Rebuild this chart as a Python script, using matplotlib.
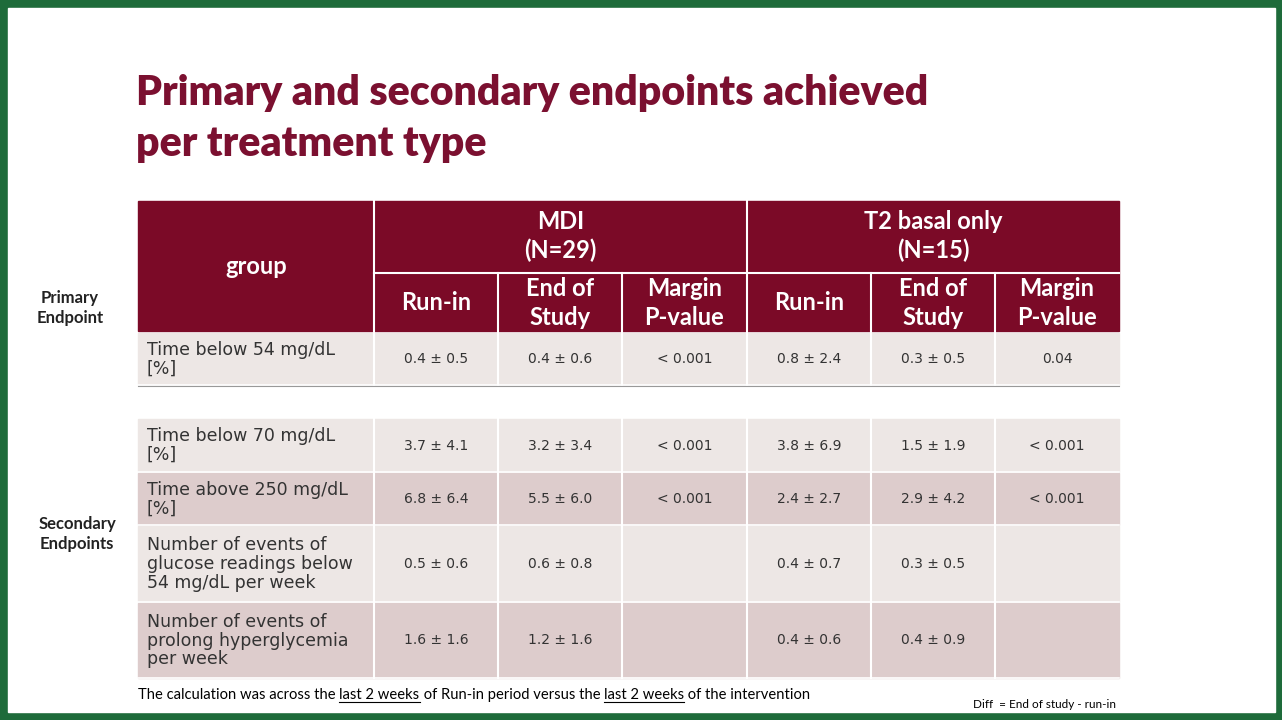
import matplotlib
matplotlib.use("Agg")
import matplotlib.pyplot as plt
from matplotlib.patches import Rectangle

title_lines = ["Primary and secondary endpoints achieved", "per treatment type"]
groups = ["MDI\n(N=29)", "T2 basal only\n(N=15)"]
sub_cols = ["Run-in", "End of\nStudy", "Margin\nP-value"]
row_labels = ["Time below 54 mg/dL\n[%]",
              "Time below 70 mg/dL\n[%]",
              "Time above 250 mg/dL\n[%]",
              "Number of events of\nglucose readings below\n54 mg/dL per week",
              "Number of events of\nprolong hyperglycemia\nper week"]
values = [["0.4 ± 0.5", "0.4 ± 0.6", "< 0.001", "0.8 ± 2.4", "0.3 ± 0.5", "0.04"],
          ["3.7 ± 4.1", "3.2 ± 3.4", "< 0.001", "3.8 ± 6.9", "1.5 ± 1.9", "< 0.001"],
          ["6.8 ± 6.4", "5.5 ± 6.0", "< 0.001", "2.4 ± 2.7", "2.9 ± 4.2", "< 0.001"],
          ["0.5 ± 0.6", "0.6 ± 0.8", "", "0.4 ± 0.7", "0.3 ± 0.5", ""],
          ["1.6 ± 1.6", "1.2 ± 1.6", "", "0.4 ± 0.6", "0.4 ± 0.9", ""]]
side_labels = [("Primary\nEndpoint", 70, 308), ("Secondary\nEndpoints", 77, 534)]

maroon = "#7B0A27"
light = "#EDE7E5"
dark = "#DDCCCC"
col_x = [138, 374, 498, 622, 747, 871, 995, 1119]
row_y = [(333, 385), (419, 472), (473, 525), (526, 602), (603, 678)]
row_fill = [light, light, dark, light, dark]

fig = plt.figure(figsize=(12.82, 7.2), dpi=100)
fig.patch.set_facecolor("#1E6B3A")
ax = fig.add_axes([0, 0, 1, 1])
ax.set_xlim(0, 1282)
ax.set_ylim(720, 0)
ax.axis("off")
ax.add_patch(Rectangle((8, 8), 1267, 704, color="white", zorder=0))

for i, line in enumerate(title_lines):
    ax.text(136, 93 + 51 * i, line, fontsize=29.5, fontweight="heavy", color="#7B1030",
            family="Lato", va="center")

# header
ax.add_patch(Rectangle((col_x[0], 201), col_x[-1] - col_x[0], 130, color=maroon))
hdr = dict(color="white", fontsize=17, fontweight="bold", family="Lato",
           ha="center", va="center", linespacing=1.3)
ax.text((col_x[0] + col_x[1]) / 2, 267, "group", **hdr)
for g, name in enumerate(groups):
    x0, x1 = col_x[1 + 3 * g], col_x[4 + 3 * g]
    ax.text((x0 + x1) / 2, 236, name, **hdr)
    for k, s in enumerate(sub_cols):
        c = 1 + 3 * g + k
        ax.text((col_x[c] + col_x[c + 1]) / 2, 303, s, **hdr)
ax.plot([col_x[1], col_x[-1]], [273, 273], color="white", lw=1.5)
for c in range(1, 7):
    top = 201 if c in (1, 4) else 273
    ax.plot([col_x[c], col_x[c]], [top, 331], color="white", lw=1.5)

# body
for r, (y0, y1) in enumerate(row_y):
    ax.add_patch(Rectangle((col_x[0], y0), col_x[-1] - col_x[0], y1 - y0, color=row_fill[r]))
    ax.text(col_x[0] + 9, (y0 + y1) / 2, row_labels[r], fontsize=12.5, color="#333333",
            va="center", ha="left", family="DejaVu Sans", linespacing=1.05)
    for c, v in enumerate(values[r]):
        ax.text((col_x[c + 1] + col_x[c + 2]) / 2, (y0 + y1) / 2, v, fontsize=10,
                color="#333333", ha="center", va="center")
    ax.plot([col_x[0], col_x[-1]], [y1, y1], color="white", lw=1.2)
    for c in range(1, 7):
        ax.plot([col_x[c], col_x[c]], [y0, y1], color="white", lw=1.5)
ax.plot([col_x[0], col_x[-1]], [385.5, 385.5], color="#999999", lw=0.8)

for s, x, y in side_labels:
    ax.text(x, y, s, fontsize=12, fontweight="bold", family="Lato", ha="center",
            va="center", color="#222222", linespacing=1.35)

# footnote with underlined pieces
pieces = [("The calculation was across the ", False), ("last 2 weeks", True),
          (" of Run-in period versus the ", False), ("last 2 weeks", True),
          (" of the intervention", False)]
fig.canvas.draw()
rend = fig.canvas.get_renderer()
inv = ax.transData.inverted()
x = 138
for txt, ul in pieces:
    t = ax.text(x, 695, txt, fontsize=10.6, family="Lato", va="center", ha="left", color="black")
    bb = t.get_window_extent(rend)
    (xa, _), (xb, _) = inv.transform([[bb.x0, bb.y0], [bb.x1, bb.y1]])
    if ul:
        ax.plot([xa, xb], [702, 702], color="black", lw=0.8)
    x = xb
ax.text(1116, 704, "Diff  = End of study - run-in", fontsize=8.5, family="Lato",
        ha="right", va="center")

fig.savefig("out.png", dpi=100, facecolor=fig.get_facecolor())
